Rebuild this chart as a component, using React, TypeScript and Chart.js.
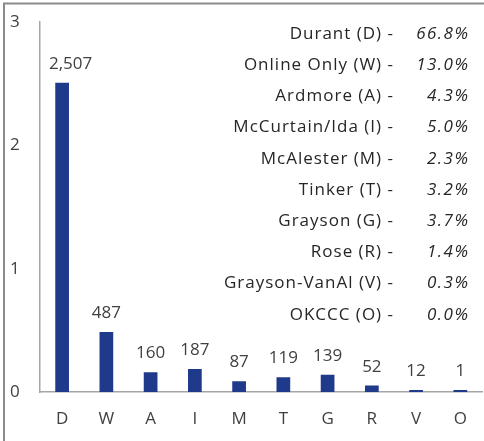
import React, { useEffect, useRef } from "react";
import { Chart, registerables } from "chart.js";

Chart.register(...registerables);

const categories = ["D", "W", "A", "I", "M", "T", "G", "R", "V", "O"];
const counts = [2507, 487, 160, 187, 87, 119, 139, 52, 12, 1];
const siteNames = [
  "Durant (D)",
  "Online Only (W)",
  "Ardmore (A)",
  "McCurtain/Ida (I)",
  "McAlester (M)",
  "Tinker (T)",
  "Grayson (G)",
  "Rose (R)",
  "Grayson-VanAl (V)",
  "OKCCC (O)",
];
const sharePercents = ["66.8%", "13.0%", "4.3%", "5.0%", "2.3%", "3.2%", "3.7%", "1.4%", "0.3%", "0.0%"];
const yMax = 3000;
const yStep = 1000;

const FONT = "'Open Sans', 'DejaVu Sans', sans-serif";
const TEXT = "#404040";
const BAR = "#1F3A8B";

const framePlugin = {
  id: "frame",
  beforeDraw(chart: any) {
    const { ctx, width, height } = chart;
    ctx.save();
    ctx.fillStyle = "#ffffff";
    ctx.fillRect(0, 0, width, height);
    ctx.strokeStyle = "#8a8a8a";
    ctx.lineWidth = 2;
    ctx.beginPath();
    ctx.moveTo(4, height);
    ctx.lineTo(4, 3.5);
    ctx.lineTo(width, 3.5);
    ctx.stroke();
    ctx.restore();
  },
};

const labelsPlugin = {
  id: "valueLabels",
  afterDatasetsDraw(chart: any) {
    const { ctx, chartArea } = chart;
    const meta = chart.getDatasetMeta(0);
    ctx.save();
    ctx.font = `17px ${FONT}`;
    ctx.fillStyle = TEXT;
    ctx.textAlign = "center";
    ctx.textBaseline = "alphabetic";
    meta.data.forEach((bar: any, i: number) => {
      const txt = counts[i].toLocaleString("en-US");
      const w = ctx.measureText(txt).width;
      let x = bar.x;
      const minLeft = chartArea.left + 9;
      if (x - w / 2 < minLeft) x = minLeft + w / 2;
      ctx.fillText(txt, x, bar.y - 14);
    });
    ctx.restore();
  },
};

const listPlugin = {
  id: "shareList",
  afterDraw(chart: any) {
    const { ctx } = chart;
    ctx.save();
    ctx.textBaseline = "middle";
    const startY = 34;
    const stepY = 31.2;
    siteNames.forEach((name, i) => {
      const y = startY + i * stepY;
      ctx.fillStyle = "#262626";
      ctx.textAlign = "right";
      ctx.font = `17px ${FONT}`;
      (ctx as any).letterSpacing = "1px";
      ctx.fillText(name + " -", 394, y);
      ctx.font = `italic 17px ${FONT}`;
      (ctx as any).letterSpacing = "1.5px";
      ctx.fillText(sharePercents[i], 469.5, y);
    });
    ctx.restore();
  },
};

export default function App() {
  const ref = useRef<HTMLCanvasElement>(null);
  useEffect(() => {
    if (!ref.current) return;
    const chart = new Chart(ref.current, {
      type: "bar",
      data: {
        labels: categories,
        datasets: [
          {
            data: counts,
            backgroundColor: BAR,
            borderWidth: 0,
            barPercentage: 0.31,
            categoryPercentage: 1,
            minBarLength: 2,
          },
        ],
      },
      options: {
        animation: false,
        responsive: false,
        events: [],
        layout: { padding: { left: 10, top: 22, right: 1, bottom: 0 } },
        plugins: { legend: { display: false }, tooltip: { enabled: false }, title: { display: false } },
        scales: {
          x: {
            grid: { display: false, drawTicks: false },
            border: { display: true, color: "#a6a6a6", width: 1.5 },
            ticks: { font: { family: FONT, size: 17 }, color: TEXT, padding: 17, maxRotation: 0 },
            afterFit: (s: any) => {
              s.height = 49;
            },
          },
          y: {
            min: 0,
            max: yMax,
            grid: { display: false, drawTicks: false },
            border: { display: true, color: "#a6a6a6", width: 1.5 },
            ticks: {
              stepSize: yStep,
              crossAlign: "far",
              font: { family: FONT, size: 17 },
              color: TEXT,
              callback: (v: any) => String(Number(v) / 1000),
            },
            afterFit: (s: any) => {
              s.width = 30;
            },
          },
        },
      },
      plugins: [framePlugin, labelsPlugin, listPlugin],
    });
    return () => chart.destroy();
  }, []);
  return (
    <div style={{ position: "absolute", left: 0, top: 0, width: 484, height: 441 }}>
      <canvas ref={ref} width={484} height={441} style={{ display: "block" }} />
    </div>
  );
}
